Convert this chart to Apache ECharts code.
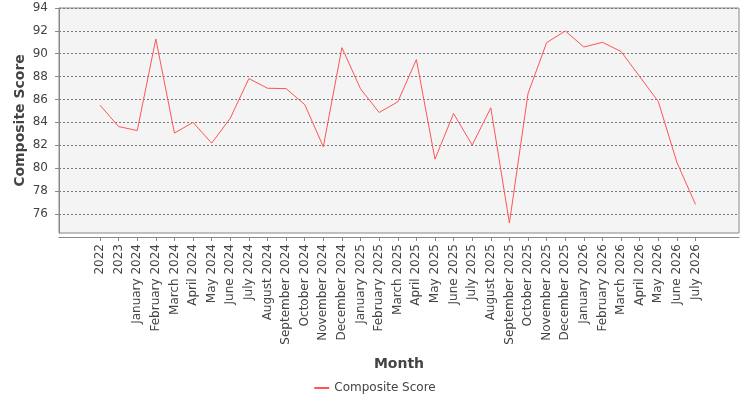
<!DOCTYPE html>
<html>
<head>
<meta charset="utf-8">
<script src="https://cdn.jsdelivr.net/npm/echarts@6/dist/echarts.min.js"></script>
<style>
  html, body { margin: 0; padding: 0; background: #fff; }
  #chart { width: 750px; height: 400px; }
</style>
</head>
<body>
<div id="chart"></div>
<script>
// Data
const months = [
  '2022', '2023',
  'January 2024', 'February 2024', 'March 2024', 'April 2024', 'May 2024', 'June 2024',
  'July 2024', 'August 2024', 'September 2024', 'October 2024', 'November 2024', 'December 2024',
  'January 2025', 'February 2025', 'March 2025', 'April 2025', 'May 2025', 'June 2025',
  'July 2025', 'August 2025', 'September 2025', 'October 2025', 'November 2025', 'December 2025',
  'January 2026', 'February 2026', 'March 2026', 'April 2026', 'May 2026', 'June 2026', 'July 2026'
]
const compositeScore = [
  85.5, 83.63, 83.28, 91.29, 83.06, 84.0, 82.18, 84.36,
  87.83, 86.98, 86.95, 85.56, 81.86, 90.53,
  86.93, 84.86, 85.79, 89.49, 80.78, 84.77,
  82.01, 85.27, 75.19, 86.52, 90.97, 91.99,
  90.59, 91.0, 90.19, 88.0, 85.82, 80.49, 76.82
]
const yTicks = [76, 78, 80, 82, 84, 86, 88, 90, 92, 94]

const yMin = 74.32
const yMax = 94
const font = 'DejaVu Sans'

// category step and layout of the inner grid
const step = 18.61
const firstX = 100
const innerLeft = firstX - step / 2
const innerWidth = step * months.length

const chart = echarts.init(document.getElementById('chart'), null, { renderer: 'canvas' })

const option = {
  animation: false,
  textStyle: { fontFamily: font },
  grid: [
    {
      left: 59, top: 8, width: 680, height: 225,
      show: true,
      backgroundColor: '#f4f4f4',
      borderColor: '#888',
      borderWidth: 1,
    },
    {
      left: innerLeft, top: 8, width: innerWidth, height: 225,
    },
  ],
  xAxis: [
    {
      gridIndex: 0,
      type: 'value',
      min: 0,
      max: 1,
      offset: 4,
      name: 'Month',
      nameLocation: 'middle',
      nameGap: 120,
      nameMoveOverlap: false,
      nameTextStyle: { fontFamily: font, fontSize: 14, fontWeight: 'bold', color: '#444' },
      axisLine: { show: true, lineStyle: { color: '#888', width: 1 } },
      axisTick: { show: false },
      axisLabel: { show: false },
      splitLine: { show: false },
    },
    {
      gridIndex: 1,
      type: 'category',
      data: months,
      boundaryGap: true,
      offset: 4,
      axisLine: { show: false },
      axisTick: { show: true, alignWithLabel: true, length: 4, lineStyle: { color: '#888' } },
      axisLabel: {
        interval: 0,
        rotate: 90,
        margin: 7,
        fontFamily: font,
        fontSize: 12,
        color: '#444',
      },
      splitLine: { show: false },
    },
  ],
  yAxis: [
    {
      gridIndex: 0,
      type: 'value',
      min: yMin,
      max: yMax,
      offset: 4,
      name: 'Composite Score',
      nameLocation: 'middle',
      nameGap: 28,
      nameMoveOverlap: false,
      nameTextStyle: { fontFamily: font, fontSize: 14, fontWeight: 'bold', color: '#444' },
      axisLine: { show: true, lineStyle: { color: '#888', width: 1 } },
      axisTick: { show: true, length: 4, customValues: yTicks, lineStyle: { color: '#888' } },
      axisLabel: { customValues: yTicks, margin: 7, fontFamily: font, fontSize: 12, color: '#444' },
      splitLine: { show: true, lineStyle: { color: '#777', type: [2, 2], width: 1 } },
    },
    {
      gridIndex: 1,
      type: 'value',
      min: yMin,
      max: yMax,
      show: false,
    },
  ],
  legend: {
    left: 'center',
    top: 377,
    itemWidth: 15,
    itemHeight: 2,
    itemGap: 10,
    textStyle: { fontFamily: font, fontSize: 12, color: '#444' },
    data: [{ name: 'Composite Score', icon: 'rect' }],
  },
  series: [
    {
      name: 'Composite Score',
      type: 'line',
      xAxisIndex: 1,
      yAxisIndex: 1,
      data: compositeScore,
      symbol: 'none',
      color: '#ff5555',
      lineStyle: { color: '#ff5555', width: 1 },
    },
  ],
}

chart.setOption(option)
</script>
</body>
</html>
